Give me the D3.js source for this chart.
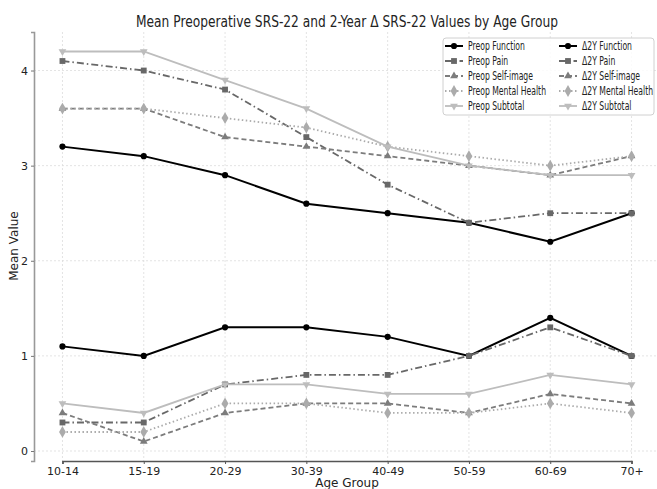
<!DOCTYPE html>
<html>
<head>
<meta charset="utf-8">
<script src="https://cdn.jsdelivr.net/npm/d3@7"></script>
<style>
  body { margin: 0; background: #fff; }
  svg text { font-family: "DejaVu Sans", sans-serif; fill: #222; }
</style>
</head>
<body>
<div id="plot-container"></div>
<script>
// categories
const ageGroups = ["10-14", "15-19", "20-29", "30-39", "40-49", "50-59", "60-69", "70+"];

// preoperative means
const preopFunction = [3.2, 3.1, 2.9, 2.6, 2.5, 2.4, 2.2, 2.5];
const preopPain = [4.1, 4.0, 3.8, 3.3, 2.8, 2.4, 2.5, 2.5];
const preopSelfImage = [3.6, 3.6, 3.3, 3.2, 3.1, 3.0, 2.9, 3.1];
const preopMental = [3.6, 3.6, 3.5, 3.4, 3.2, 3.1, 3.0, 3.1];
const preopSubtotal = [4.2, 4.2, 3.9, 3.6, 3.2, 3.0, 2.9, 2.9];

// 2-year change
const d2yFunction = [1.1, 1.0, 1.3, 1.3, 1.2, 1.0, 1.4, 1.0];
const d2yPain = [0.3, 0.3, 0.7, 0.8, 0.8, 1.0, 1.3, 1.0];
const d2ySelfImage = [0.4, 0.1, 0.4, 0.5, 0.5, 0.4, 0.6, 0.5];
const d2yMental = [0.2, 0.2, 0.5, 0.5, 0.4, 0.4, 0.5, 0.4];
const d2ySubtotal = [0.5, 0.4, 0.7, 0.7, 0.6, 0.6, 0.8, 0.7];

const yTicks = [0, 1, 2, 3, 4];

const styles = {
    "Function":      {color: "#000000", dash: null,      symbol: d3.symbolCircle,   size: 30, width: 2},
    "Pain":          {color: "#686868", dash: "7,3,1.5,3", symbol: d3.symbolSquare, size: 34, width: 1.8},
    "Self-image":    {color: "#7c7c7c", dash: "5,3",     symbol: d3.symbolTriangle, size: 26, width: 1.8},
    "Mental Health": {color: "#ababab", dash: "1.5,2.5", symbol: d3.symbolDiamond,  size: 40, width: 1.8},
    "Subtotal":      {color: "#bdbdbd", dash: null,      symbol: "tri-down",        size: 26, width: 1.8}
};

const series = [
    {name: "Preop Function", key: "Function", values: preopFunction},
    {name: "Preop Pain", key: "Pain", values: preopPain},
    {name: "Preop Self-image", key: "Self-image", values: preopSelfImage},
    {name: "Preop Mental Health", key: "Mental Health", values: preopMental},
    {name: "Preop Subtotal", key: "Subtotal", values: preopSubtotal},
    {name: "\u03942Y Function", key: "Function", values: d2yFunction},
    {name: "\u03942Y Pain", key: "Pain", values: d2yPain},
    {name: "\u03942Y Self-image", key: "Self-image", values: d2ySelfImage},
    {name: "\u03942Y Mental Health", key: "Mental Health", values: d2yMental},
    {name: "\u03942Y Subtotal", key: "Subtotal", values: d2ySubtotal}
];

const W = 657, H = 489;
const margin = {top: 32, right: -3, bottom: 28, left: 34};
const width = W - margin.left - margin.right,
      height = H - margin.top - margin.bottom;

const svg = d3.select("#plot-container")
  .append("svg")
    .attr("width", W)
    .attr("height", H);

const g = svg.append("g")
    .attr("transform", "translate(" + margin.left + "," + margin.top + ")");

// pad the point scale like matplotlib: 7 steps plus 0.35 step each side
const step = width / 7.7;
const x = d3.scalePoint()
    .domain(ageGroups)
    .range([0.35 * step, width - 0.35 * step]);

const y = d3.scaleLinear()
    .domain([-0.105, 4.405])
    .range([height, 0]);

// grid
g.append("g")
  .selectAll("line")
  .data(ageGroups)
  .join("line")
    .attr("x1", d => x(d)).attr("x2", d => x(d))
    .attr("y1", 0).attr("y2", height)
    .attr("stroke", "#dcdcdc").attr("stroke-width", 0.8)
    .attr("stroke-dasharray", "2,2");

g.append("g")
  .selectAll("line")
  .data(yTicks)
  .join("line")
    .attr("x1", 0).attr("x2", width)
    .attr("y1", d => y(d)).attr("y2", d => y(d))
    .attr("stroke", "#dcdcdc").attr("stroke-width", 0.8)
    .attr("stroke-dasharray", "2,2");

// axes
const xAxis = g.append("g")
    .attr("transform", `translate(0, ${height})`)
    .call(d3.axisBottom(x).tickSize(3).tickPadding(3));
xAxis.select(".domain").attr("stroke", "#555").attr("stroke-width", 1.6);
xAxis.selectAll(".tick line").attr("stroke", "#555");
xAxis.selectAll("text").style("font-size", "11px").attr("fill", "#222");

const yAxis = g.append("g")
    .call(d3.axisLeft(y).tickValues(yTicks).tickFormat(d3.format("d")).tickSize(3).tickPadding(3));
yAxis.select(".domain").attr("stroke", "#999").attr("stroke-width", 1.6);
yAxis.selectAll(".tick line").attr("stroke", "#777");
yAxis.selectAll("text").style("font-size", "11px").attr("fill", "#222");

function markerPath(st) {
    if (st.symbol === "tri-down") {
        return d3.symbol().type(d3.symbolTriangle).size(st.size)();
    }
    return d3.symbol().type(st.symbol).size(st.size)();
}

const line = d3.line()
    .x((d, i) => x(ageGroups[i]))
    .y(d => y(d));

series.forEach(s => {
    const st = styles[s.key];
    g.append("path")
        .datum(s.values)
        .attr("fill", "none")
        .attr("stroke", st.color)
        .attr("stroke-width", st.width)
        .attr("stroke-dasharray", st.dash)
        .attr("d", line);

    g.append("g")
      .selectAll("path")
      .data(s.values)
      .join("path")
        .attr("d", markerPath(st))
        .attr("transform", (d, i) => `translate(${x(ageGroups[i])},${y(d)})` + (st.symbol === "tri-down" ? " rotate(180)" : ""))
        .attr("fill", st.color);
});

// legend
const legend = svg.append("g").attr("transform", "translate(443,38)");
legend.append("rect")
    .attr("width", 211).attr("height", 77)
    .attr("rx", 3)
    .attr("fill", "#fff").attr("fill-opacity", 0.85)
    .attr("stroke", "#d0d0d0").attr("stroke-width", 1);

const legendTexts = [];
series.forEach((s, i) => {
    const st = styles[s.key];
    const col = Math.floor(i / 5), row = i % 5;
    const lg = legend.append("g")
        .attr("transform", `translate(${2 + col * 114}, ${8 + row * 15})`);
    lg.append("line")
        .attr("x1", 0).attr("x2", 18)
        .attr("stroke", st.color).attr("stroke-width", st.width)
        .attr("stroke-dasharray", st.dash);
    lg.append("path")
        .attr("d", markerPath(st))
        .attr("transform", "translate(9,0)" + (st.symbol === "tri-down" ? " rotate(180)" : ""))
        .attr("fill", st.color);
    legendTexts.push(lg.append("text")
        .attr("x", 23).attr("y", 4)
        .style("font-size", "12px")
        .attr("fill", "#333")
        .text(s.name));
});
// the original text is condensed: "Preop Mental Health" is about 78px wide
const refLen = legendTexts[3].node().getComputedTextLength();
const squeeze = refLen > 0 ? 78 / refLen : 1;
legendTexts.forEach(t => {
    const len = t.node().getComputedTextLength();
    t.attr("textLength", len * squeeze).attr("lengthAdjust", "spacingAndGlyphs");
});

// title and labels
svg.append("text")
    .attr("x", margin.left + width / 2)
    .attr("y", 27)
    .attr("text-anchor", "middle")
    .attr("textLength", 422)
    .attr("lengthAdjust", "spacingAndGlyphs")
    .style("font-size", "15.5px")
    .attr("fill", "#333")
    .text("Mean Preoperative SRS-22 and 2-Year \u0394 SRS-22 Values by Age Group");

svg.append("text")
    .attr("x", margin.left + width / 2)
    .attr("y", 487)
    .attr("text-anchor", "middle")
    .style("font-size", "12px")
    .text("Age Group");

svg.append("text")
    .attr("transform", "rotate(-90)")
    .attr("x", -246)
    .attr("y", 18)
    .attr("text-anchor", "middle")
    .style("font-size", "12px")
    .text("Mean Value");
</script>
</body>
</html>
